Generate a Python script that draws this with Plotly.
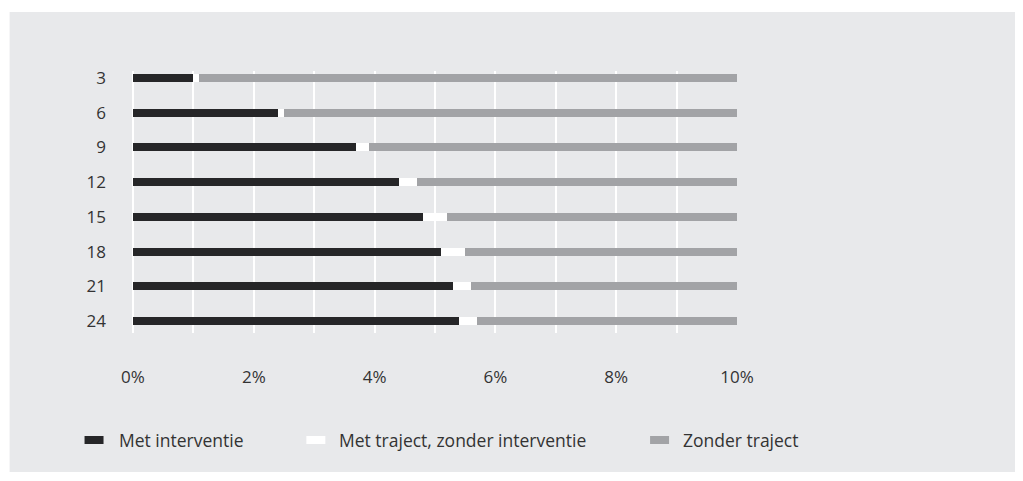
import plotly.graph_objects as go

# maanden na start
maanden = ["3", "6", "9", "12", "15", "18", "21", "24"]
met_interventie = [1.0, 2.4, 3.7, 4.4, 4.8, 5.1, 5.3, 5.4]
met_traject = [0.1, 0.1, 0.2, 0.3, 0.4, 0.4, 0.3, 0.3]
zonder_traject = [100 - a - b for a, b in zip(met_interventie, met_traject)]

reeksen = ["Met interventie", "Met traject, zonder interventie", "Zonder traject"]
kleuren = ["#262628", "#ffffff", "#a2a3a6"]

BG = "#e8e9eb"
TXT = "#333333"
FONT = "Open Sans"

fig = go.Figure()
for naam, waarden, kleur in zip(reeksen, [met_interventie, met_traject, zonder_traject], kleuren):
    fig.add_trace(go.Bar(
        y=maanden, x=waarden, name=naam, orientation="h",
        marker=dict(color=kleur, line=dict(width=0)),
        width=0.23, showlegend=False,
    ))

# de pagina heeft 8px marge rond de figuur, dus schermpixels -8
OFF = 8
FW, FH = 1007, 464
L = 132.5 - OFF
R = FW - (737 - OFF)
T = 71 - OFF
B = FH - (333 - OFF)
PW = FW - L - R
PH = FH - T - B


def px_x(p):
    return (p - OFF - L) / PW


def px_y(p):
    return (FH - B - (p - OFF)) / PH


# handmatige legenda (schermpixels)
legenda_x = [(84, 103, 116), (306, 325, 337), (650, 669, 681)]

shapes = [
    # witte rand links en boven
    dict(type="rect", xref="paper", yref="paper", x0=px_x(0), x1=px_x(9),
         y0=px_y(500), y1=px_y(0), fillcolor="white", line=dict(width=0), layer="above"),
    dict(type="rect", xref="paper", yref="paper", x0=px_x(0), x1=px_x(1040),
         y0=px_y(12), y1=px_y(0), fillcolor="white", line=dict(width=0), layer="above"),
]
annotations = []
for (x0, x1, xt), naam, kleur in zip(legenda_x, reeksen, kleuren):
    shapes.append(dict(type="rect", xref="paper", yref="paper",
                       x0=px_x(x0), x1=px_x(x1), y0=px_y(444), y1=px_y(436),
                       fillcolor=kleur, line=dict(width=0)))
    annotations.append(dict(text=naam, xref="paper", yref="paper", x=px_x(xt), y=px_y(440),
                            xanchor="left", yanchor="middle", showarrow=False,
                            font=dict(family=FONT, size=17.5, color=TXT)))

fig.update_layout(
    barmode="stack",
    width=FW, height=FH,
    margin=dict(l=L, r=R, t=T, b=B, pad=0),
    paper_bgcolor=BG, plot_bgcolor=BG,
    font=dict(family=FONT, size=17, color=TXT),
    shapes=shapes, annotations=annotations,
    bargap=0,
)
fig.update_xaxes(
    range=[0, 10], dtick=2, tick0=0, ticksuffix="%",
    showgrid=True, gridcolor="white", gridwidth=2,
    zeroline=True, zerolinecolor="white", zerolinewidth=2,
    minor=dict(dtick=1, showgrid=True, gridcolor="white", gridwidth=2),
    ticks="", ticklabelstandoff=32, showline=False,
    tickfont=dict(family=FONT, size=17, color=TXT),
)
fig.update_yaxes(
    type="category", categoryorder="array", categoryarray=maanden,
    range=[7.346, -0.2016], showgrid=False, zeroline=False,
    ticks="", ticklabelstandoff=26, showline=False,
    tickfont=dict(family=FONT, size=17, color=TXT),
)

fig.write_html("out.html")
